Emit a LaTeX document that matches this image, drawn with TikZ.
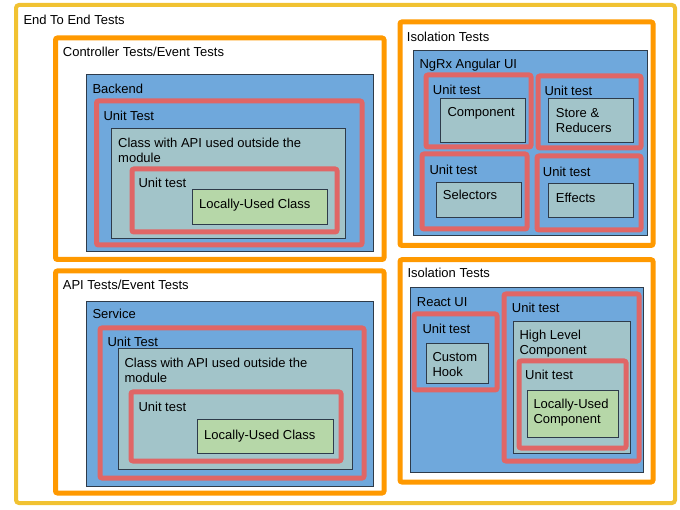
\documentclass[tikz,border=0pt]{standalone}
\usepackage{fontspec}
\setmainfont{Liberation Sans}
\usepackage{xcolor}
\definecolor{e2eyellow}{HTML}{F1C232}
\definecolor{suiteorange}{HTML}{FF9900}
\definecolor{moduleblue}{HTML}{6FA8DC}
\definecolor{classteal}{HTML}{A2C4C9}
\definecolor{localgreen}{HTML}{B6D7A8}
\definecolor{testred}{HTML}{E06666}
\definecolor{edgegray}{HTML}{2E3B4A}
\tikzstyle{e2ebox} = [draw=e2eyellow, line width=4pt, rounded corners=3pt]
\tikzstyle{suitebox} = [draw=suiteorange, fill=white, line width=5pt, rounded corners=2pt]
\tikzstyle{modulebox} = [draw=edgegray, fill=moduleblue, line width=0.8pt]
\tikzstyle{testbox} = [draw=testred, line width=5pt, rounded corners=2pt]
\tikzstyle{classbox} = [draw=edgegray, fill=classteal, line width=0.8pt]
\tikzstyle{localbox} = [draw=edgegray, fill=localgreen, line width=0.8pt]
\tikzstyle{lbl} = [anchor=base west, inner sep=0pt, align=left,
                   font=\fontsize{13}{15}\selectfont]

\begin{document}
\begin{tikzpicture}[x=1pt, y=-1pt]
    \useasboundingbox (0,0) rectangle (680,510);

    % end to end
    \draw[e2ebox] (16,5) rectangle (675,503);
    \node[lbl] (e2e) at (23.3,24.5) {End To End Tests};

    % controller tests
    \draw[suitebox] (55.5,38) rectangle (384,259.5);
    \node[lbl] (ctrl) at (62.7,57) {Controller Tests/Event Tests};
    \draw[modulebox] (86,74) rectangle (373,251);
    \node[lbl] (backend) at (92.3,94) {Backend};
    \draw[testbox] (96.5,101) rectangle (362,245);
    \node[lbl] (ctrlut) at (103.3,120.5) {Unit Test};
    \draw[classbox] (111,128) rectangle (345,238);
    % two-line labels sit on their last line
    \node[lbl] (ctrlapi) at (118,163) {Class with API used outside the\\module};
    \draw[testbox] (132,169) rectangle (337,232);
    \node[lbl] (ctrlut2) at (138.3,188) {Unit test};
    \draw[localbox] (192,189) rectangle (327,224);
    \node[lbl] (ctrllocal) at (199,209) {Locally-Used Class};

    % api tests
    \draw[suitebox] (55.5,271) rectangle (384,493);
    \node[lbl] (api) at (62.7,290) {API Tests/Event Tests};
    \draw[modulebox] (86,301) rectangle (373,486);
    \node[lbl] (service) at (92.3,319) {Service};
    \draw[testbox] (100,328) rectangle (364,478);
    \node[lbl] (apiut) at (107.3,346.5) {Unit Test};
    \draw[classbox] (118,348) rectangle (352,469);
    \node[lbl] (apiclass) at (124.3,383) {Class with API used outside the\\module};
    \draw[testbox] (131,392) rectangle (341,461);
    \node[lbl] (apiut2) at (138.3,411.5) {Unit test};
    \draw[localbox] (197,419) rectangle (333,453);
    \node[lbl] (apilocal) at (204,439) {Locally-Used Class};

    % ngrx isolation
    \draw[suitebox] (400,22) rectangle (653,245.5);
    \node[lbl] (isongrx) at (406.7,41.5) {Isolation Tests};
    \draw[modulebox] (413,50) rectangle (647,235);
    \node[lbl] (ngrx) at (419.3,68.5) {NgRx Angular UI};
    \draw[testbox] (426,75) rectangle (531,147);
    \node[lbl] (comput) at (432.7,94.5) {Unit test};
    \draw[classbox] (440,98) rectangle (525,142);
    \node[lbl] (comp) at (447.3,117) {Component};
    \draw[testbox] (538,76) rectangle (641,148);
    \node[lbl] (storeut) at (544.3,95.5) {Unit test};
    \draw[classbox] (548,98) rectangle (633,142);
    \node[lbl] (store) at (555.7,133) {Store \&\\Reducers};
    \draw[testbox] (422,154) rectangle (527,229);
    \node[lbl] (selut) at (429.3,175) {Unit test};
    \draw[classbox] (436,182) rectangle (521,217);
    \node[lbl] (sel) at (442.7,200) {Selectors};
    \draw[testbox] (537,156) rectangle (641,230);
    \node[lbl] (effut) at (542.7,176.5) {Unit test};
    \draw[classbox] (548,183) rectangle (633,217);
    \node[lbl] (eff) at (555.7,203) {Effects};

    % react isolation
    \draw[suitebox] (400,259.7) rectangle (653,482);
    \node[lbl] (isoreact) at (407.3,278) {Isolation Tests};
    \draw[modulebox] (410,287) rectangle (643,472);
    \node[lbl] (react) at (416.7,306.5) {React UI};
    \draw[testbox] (414,314) rectangle (497,390);
    \node[lbl] (hookut) at (422.3,333.5) {Unit test};
    \draw[classbox] (426,343) rectangle (488,383);
    \node[lbl] (hook) at (432.3,377) {Custom\\Hook};
    \draw[testbox] (504,294) rectangle (639,461);
    \node[lbl] (highut) at (511.7,313) {Unit test};
    \draw[classbox] (513,321) rectangle (630,453);
    \node[lbl] (high) at (519.3,355) {High Level\\Component};
    \draw[testbox] (519,361) rectangle (626,448);
    \node[lbl] (localut) at (525,380) {Unit test};
    \draw[localbox] (527,390) rectangle (618,437);
    \node[lbl] (localcomp) at (533.3,423) {Locally-Used\\Component};
\end{tikzpicture}
\end{document}
